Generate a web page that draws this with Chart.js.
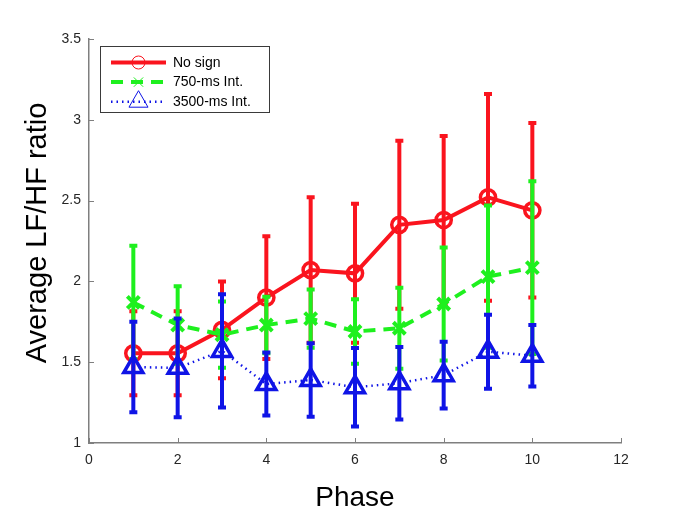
<!DOCTYPE html>
<html>
<head>
<meta charset="utf-8">
<script src="https://cdn.jsdelivr.net/npm/chart.js@4.4.0/dist/chart.umd.min.js"></script>
<style>
  html, body { margin: 0; padding: 0; background: #fff; }
  #lfhfChart { display: block; }
</style>
</head>
<body>
<canvas id="lfhfChart" width="685" height="517"></canvas>
<script>
// Phase number on the x axis
const phases = [1, 2, 3, 4, 5, 6, 7, 8, 9, 10];

// Mean LF/HF ratio per condition
const noSign     = [1.555, 1.555, 1.70, 1.90, 2.07, 2.05, 2.35, 2.38, 2.52, 2.44];
const int750     = [1.87, 1.73, 1.67, 1.73, 1.77, 1.69, 1.71, 1.86, 2.03, 2.085];
const int3500    = [1.47, 1.465, 1.57, 1.365, 1.39, 1.345, 1.37, 1.42, 1.565, 1.54];

// Half length of each error bar (symmetric)
const noSignErr  = [0.26, 0.26, 0.30, 0.38, 0.45, 0.43, 0.52, 0.52, 0.64, 0.54];
const int750Err  = [0.35, 0.24, 0.205, 0.175, 0.18, 0.20, 0.25, 0.35, 0.44, 0.535];
const int3500Err = [0.28, 0.305, 0.35, 0.195, 0.228, 0.243, 0.224, 0.207, 0.229, 0.19];

// Axis ticks
const xTicks = [0, 2, 4, 6, 8, 10, 12];
const yTicks = [1, 1.5, 2, 2.5, 3, 3.5];

const RED = 'rgb(250,20,30)';
const GREEN = 'rgb(30,240,30)';
const BLUE = 'rgb(15,20,230)';
const AXIS = '#7f7f7f';

Chart.defaults.font.family = '"Liberation Sans", Arial, Helvetica, sans-serif';

const toPoints = ys => phases.map((p, i) => ({ x: p, y: ys[i] }));

// error bars are drawn just before each dataset so later series cover earlier ones
const errorBars = {
  id: 'errorBars',
  beforeDatasetDraw(chart, args) {
    const ds = chart.data.datasets[args.index];
    if (!ds.errors) return;
    const y = chart.scales.y;
    const ctx = chart.ctx;
    ctx.save();
    ctx.strokeStyle = ds.borderColor;
    ctx.lineWidth = 4;
    ctx.setLineDash([]);
    args.meta.data.forEach((pt, i) => {
      const v = ds.data[i].y, e = ds.errors[i];
      const top = y.getPixelForValue(v + e);
      const bot = y.getPixelForValue(v - e);
      ctx.beginPath();
      ctx.moveTo(pt.x, top); ctx.lineTo(pt.x, bot);
      ctx.moveTo(pt.x - 4, top); ctx.lineTo(pt.x + 4, top);
      ctx.moveTo(pt.x - 4, bot); ctx.lineTo(pt.x + 4, bot);
      ctx.stroke();
    });
    ctx.restore();
  }
};

// matlab style tick marks pointing into the plot
const innerTicks = {
  id: 'innerTicks',
  beforeDatasetsDraw(chart) {
    const { ctx, chartArea: a, scales: { x, y } } = chart;
    ctx.save();
    ctx.strokeStyle = AXIS;
    ctx.lineWidth = 1;
    ctx.beginPath();
    x.ticks.forEach(t => {
      const px = Math.round(x.getPixelForValue(t.value)) + 0.5;
      ctx.moveTo(px, a.bottom); ctx.lineTo(px, a.bottom - 5);
    });
    y.ticks.forEach(t => {
      const py = Math.round(y.getPixelForValue(t.value)) + 0.5;
      ctx.moveTo(a.left, py); ctx.lineTo(a.left + 5, py);
    });
    ctx.stroke();
    ctx.restore();
  }
};

// boxed legend with line + marker samples
const boxLegend = {
  id: 'boxLegend',
  afterDraw(chart) {
    const ctx = chart.ctx;
    const bx = 100.5, by = 46.5, bw = 169, bh = 66;
    ctx.save();
    ctx.fillStyle = '#fff';
    ctx.fillRect(bx, by, bw, bh);
    ctx.strokeStyle = '#3a3a3a';
    ctx.lineWidth = 1;
    ctx.strokeRect(bx, by, bw, bh);
    chart.data.datasets.forEach((ds, i) => {
      const yy = 62.5 + i * 19.6;
      ctx.strokeStyle = ds.borderColor;
      ctx.lineWidth = ds.borderWidth;
      ctx.setLineDash(ds.borderDash || []);
      ctx.beginPath();
      ctx.moveTo(111, yy); ctx.lineTo(166, yy);
      ctx.stroke();
      ctx.setLineDash([]);
      ctx.lineWidth = 1;
      ctx.fillStyle = 'rgba(0,0,0,0)';
      Chart.helpers.drawPoint(ctx, { pointStyle: ds.pointStyle, radius: ds.legendRadius, rotation: 0, borderWidth: 1 }, 138.5, yy);
      ctx.fillStyle = '#000';
      ctx.font = '14px "Liberation Sans", Arial, sans-serif';
      ctx.textBaseline = 'middle';
      ctx.textAlign = 'left';
      ctx.fillText(ds.label, 173, yy + 0.5);
    });
    ctx.restore();
  }
};

const ctx = document.getElementById('lfhfChart').getContext('2d');
window.lfhfChart = new Chart(ctx, {
  type: 'line',
  data: {
    datasets: [
      { label: 'No sign', data: toPoints(noSign), errors: noSignErr,
        borderColor: RED, borderWidth: 4, tension: 0, fill: false, order: 3,
        pointStyle: 'circle', pointRadius: 7.6, pointBorderWidth: 3.5, legendRadius: 6.5,
        pointBorderColor: RED, pointBackgroundColor: 'rgba(0,0,0,0)' },
      { label: '750-ms Int.', data: toPoints(int750), errors: int750Err,
        borderColor: GREEN, borderWidth: 4, borderDash: [12, 8], tension: 0, fill: false, order: 2,
        pointStyle: 'crossRot', pointRadius: 8.5, pointBorderWidth: 4, legendRadius: 6.6,
        pointBorderColor: GREEN, pointBackgroundColor: 'rgba(0,0,0,0)' },
      { label: '3500-ms Int.', data: toPoints(int3500), errors: int3500Err,
        borderColor: BLUE, borderWidth: 2.5, borderDash: [1.5, 4], tension: 0, fill: false, order: 1,
        pointStyle: 'triangle', pointRadius: 11, pointBorderWidth: 3.5, legendRadius: 11,
        pointBorderColor: BLUE, pointBackgroundColor: 'rgba(0,0,0,0)' }
    ]
  },
  options: {
    responsive: false,
    animation: false,
    layout: { padding: { top: 39, right: 64, left: 0, bottom: 0 } },
    plugins: { legend: { display: false }, tooltip: { enabled: false } },
    scales: {
      x: {
        type: 'linear', min: 0, max: 12,
        afterBuildTicks: s => { s.ticks = xTicks.map(v => ({ value: v })); },
        afterFit: s => { s.height = 74; },
        grid: { display: false, drawTicks: false },
        border: { display: true, color: AXIS, width: 1.5 },
        ticks: { color: '#262626', font: { size: 14 }, padding: 9, maxRotation: 0, autoSkip: false,
                 callback: v => String(v) },
        title: { display: true, text: 'Phase', color: '#000', font: { size: 28 }, padding: { top: 0, bottom: 2 } }
      },
      y: {
        type: 'linear', min: 1, max: 3.5,
        afterBuildTicks: s => { s.ticks = yTicks.map(v => ({ value: v })); },
        afterFit: s => { s.width = 89; },
        grid: { display: false, drawTicks: false },
        border: { display: true, color: AXIS, width: 1.5 },
        ticks: { color: '#262626', font: { size: 14 }, padding: 8, autoSkip: false,
                 callback: v => String(v) },
        // two leading no-break spaces nudge the label up like the original
        title: { display: true, text: '\u00A0\u00A0Average LF/HF ratio', color: '#000', font: { size: 29 }, padding: { top: 21, bottom: 0 } }
      }
    }
  },
  plugins: [errorBars, innerTicks, boxLegend]
});
</script>
</body>
</html>
